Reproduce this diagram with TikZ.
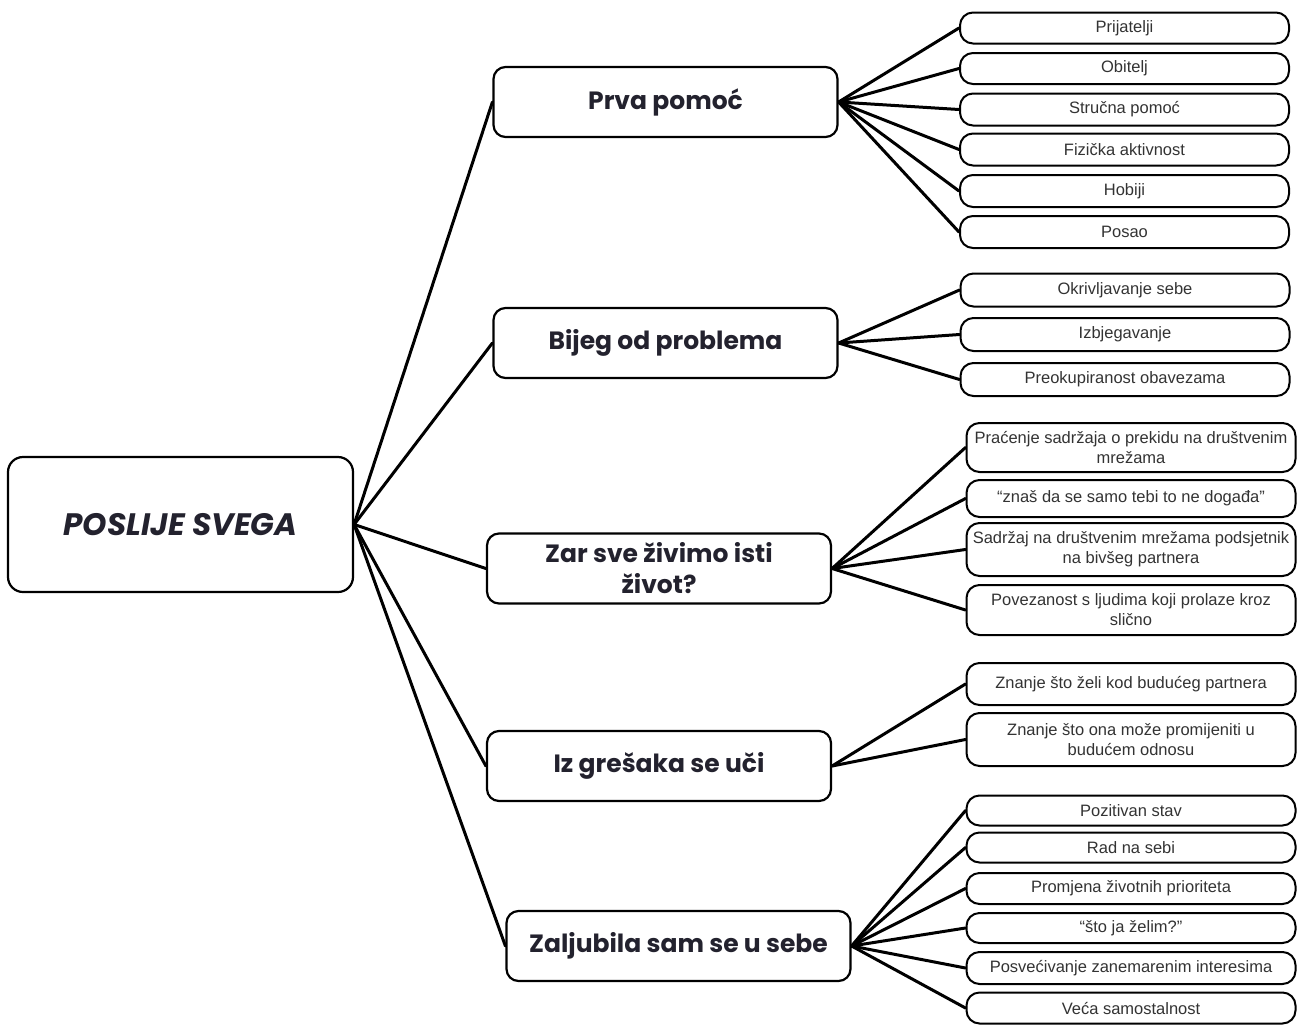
\documentclass[tikz,border=0pt]{standalone}
\usepackage{fontspec}
\setmainfont{Liberation Sans}
\newfontfamily\popfont{Poppins}
\definecolor{ink}{HTML}{23222E}
\definecolor{leafink}{HTML}{333333}
\begin{document}
\begin{tikzpicture}[x=1pt,y=-1pt,
  rootbox/.style={draw=black, line width=2.2pt, rounded corners=15pt, fill=white,
    minimum width=345pt, minimum height=135pt, inner sep=0pt,
    font=\popfont\fontsize{31}{36}\selectfont\bfseries\itshape, text=ink},
  branchbox/.style={draw=black, line width=2.2pt, rounded corners=12pt, fill=white,
    minimum width=344pt, minimum height=70pt, inner sep=0pt, align=center,
    font=\popfont\fontsize{25}{31}\selectfont\bfseries, text=ink},
  leafbox/.style={draw=black, line width=2pt, rounded corners=13pt, fill=white,
    minimum width=329pt, inner sep=0pt, align=center,
    font=\fontsize{16.5}{20}\selectfont, text=leafink},
  conn/.style={line width=3pt, line cap=round, black}
]
\useasboundingbox (0,0) rectangle (1301,1026);
\fill[white] (0,0) rectangle (1301,1026);

% root
\node[rootbox] (root) at (180.5,524.5) {POSLIJE SVEGA};

% branches
\node[branchbox] (b1) at (665.5,102) {Prva pomoć};
\node[branchbox] (b2) at (665.5,343) {Bijeg od problema};
\node[branchbox] (b3) at (659,568.5) {Zar sve živimo isti\\život?};
\node[branchbox] (b4) at (659,766) {Iz grešaka se uči};
\node[branchbox] (b5) at (678.5,946) {Zaljubila sam se u sebe};

% leaves group 1
\node[leafbox, minimum height=31pt] (l11) at (1124.5,28) {Prijatelji};
\node[leafbox, minimum height=31pt] (l12) at (1124.5,68.5) {Obitelj};
\node[leafbox, minimum height=32pt] (l13) at (1124.5,109.5) {Stručna pomoć};
\node[leafbox, minimum height=32pt] (l14) at (1124.5,149.5) {Fizička aktivnost};
\node[leafbox, minimum height=32pt] (l15) at (1124.5,191) {Hobiji};
\node[leafbox, minimum height=32pt] (l16) at (1124.5,232) {Posao};

% leaves group 2
\node[leafbox, minimum height=33pt] (l21) at (1125,290) {Okrivljavanje sebe};
\node[leafbox, minimum height=33pt] (l22) at (1125,334.5) {Izbjegavanje};
\node[leafbox, minimum height=33pt] (l23) at (1125,379.5) {Preokupiranost obavezama};

% leaves group 3
\node[leafbox, minimum height=49pt] (l31) at (1131,447.5) {Praćenje sadržaja o prekidu na društvenim\\mrežama};
\node[leafbox, minimum height=37pt] (l32) at (1131,498.5) {“znaš da se samo tebi to ne događa”};
\node[leafbox, minimum height=53pt] (l33) at (1131,549.5) {Sadržaj na društvenim mrežama podsjetnik\\na bivšeg partnera};
\node[leafbox, minimum height=50pt] (l34) at (1131,610) {Povezanost s ljudima koji prolaze kroz\\slično};

% leaves group 4
\node[leafbox, minimum height=42pt] (l41) at (1131,684) {Znanje što želi kod budućeg partnera};
\node[leafbox, minimum height=53pt] (l42) at (1131,739.5) {Znanje što ona može promijeniti u\\budućem odnosu};

% leaves group 5
\node[leafbox, minimum height=30pt] (l51) at (1131,810.5) {Pozitivan stav};
\node[leafbox, minimum height=30pt] (l52) at (1131,847.5) {Rad na sebi};
\node[leafbox, minimum height=31pt] (l53) at (1131,888.5) {Promjena životnih prioriteta};
\node[leafbox, minimum height=30pt] (l54) at (1131,928) {“što ja želim?”};
\node[leafbox, minimum height=32pt] (l55) at (1131,968) {Posvećivanje zanemarenim interesima};
\node[leafbox, minimum height=31pt] (l56) at (1131,1008) {Veća samostalnost};

% connectors root -> branches
\foreach \b in {b1,b2,b3,b4,b5}
  \draw[conn] (root.east) -- (\b.west);

% branch -> leaves
\foreach \l in {l11,l12,l13,l14,l15,l16}
  \draw[conn] (b1.east) -- (\l.west);
\foreach \l in {l21,l22,l23}
  \draw[conn] (b2.east) -- (\l.west);
\foreach \l in {l31,l32,l33,l34}
  \draw[conn] (b3.east) -- (\l.west);
\foreach \l in {l41,l42}
  \draw[conn] (b4.east) -- (\l.west);
\foreach \l in {l51,l52,l53,l54,l55,l56}
  \draw[conn] (b5.east) -- (\l.west);
\end{tikzpicture}
\end{document}
